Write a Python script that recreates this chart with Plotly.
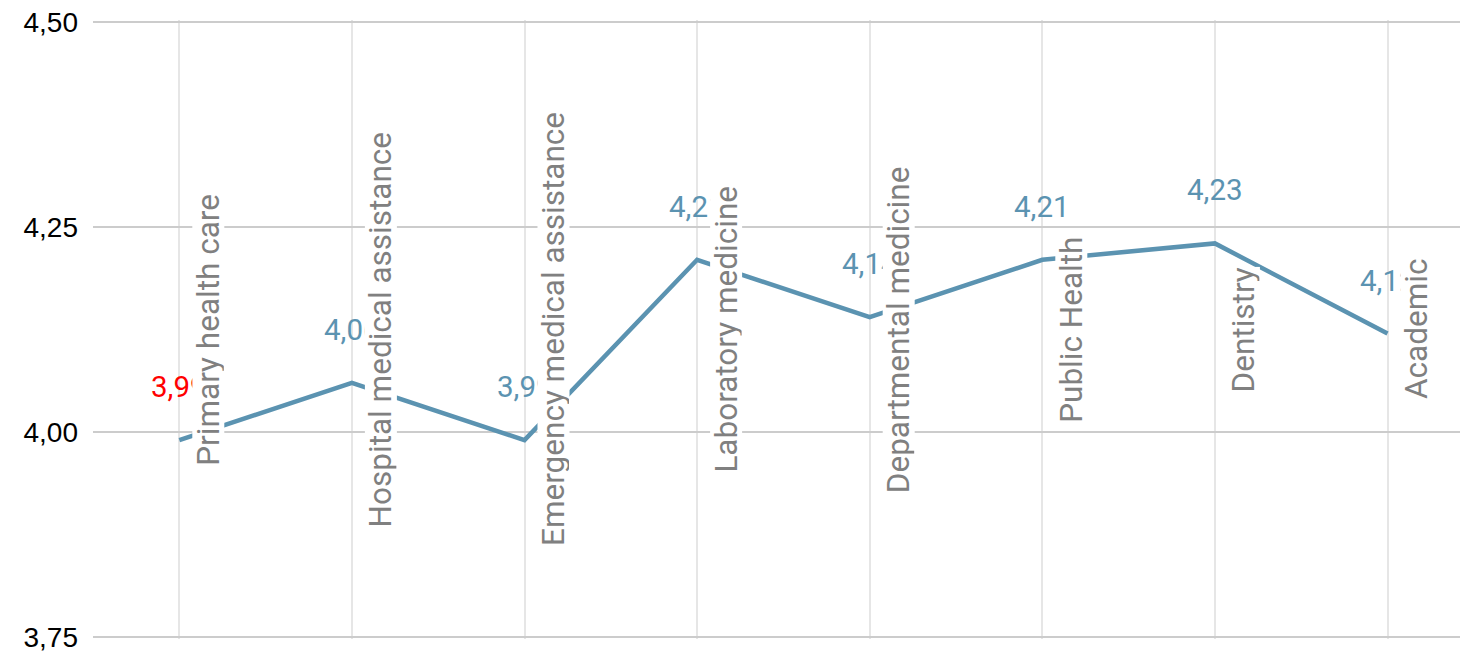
import plotly.graph_objects as go

# Average score by area
categories = [
    "Primary health care",
    "Hospital medical assistance",
    "Emergency medical assistance",
    "Laboratory medicine",
    "Departmental medicine",
    "Public Health",
    "Dentistry",
    "Academic",
]
scores = [3.99, 4.06, 3.99, 4.21, 4.14, 4.21, 4.23, 4.12]
label_colors = ["#ff0000", "#5b93b1", "#5b93b1", "#5b93b1",
                "#5b93b1", "#5b93b1", "#5b93b1", "#5b93b1"]
y_ticks = [3.75, 4.00, 4.25, 4.50]

LINE_COLOR = "#5b93b1"

fig = go.Figure()
fig.add_trace(go.Scatter(
    x=categories,
    y=scores,
    mode="lines",
    line=dict(color=LINE_COLOR, width=4.5),
    hoverinfo="skip",
    showlegend=False,
))

annotations = []
# value labels above each point (drawn first so the category labels cover them)
for cat, val, col in zip(categories, scores, label_colors):
    annotations.append(dict(
        x=cat, y=val, xref="x", yref="y",
        text=f"{val:.2f}".replace(".", ","),
        showarrow=False, yshift=53,
        font=dict(family="Roboto", size=29.5, color=col),
    ))
# category names written vertically inside the plot, on a tight white box
for cat in categories:
    annotations.append(dict(
        x=cat, y=0.5, xref="x", yref="paper",
        text=cat, textangle=-90,
        showarrow=False, xshift=29,
        height=31,
        bgcolor="white", borderpad=0,
        font=dict(family="Roboto", size=31.5, color="#808080"),
    ))

fig.update_layout(
    width=1460, height=653,
    margin=dict(l=93, r=0, t=20, b=14),
    paper_bgcolor="white",
    plot_bgcolor="white",
    separators=", ",
    annotations=annotations,
    xaxis=dict(
        type="category",
        range=[-0.5, 7.42],
        showticklabels=False,
        showgrid=True, gridcolor="#e6e6e6", gridwidth=2,
        zeroline=False, showline=False, ticks="",
    ),
    yaxis=dict(
        # padded slightly so the 3,75 and 4,50 grid lines are drawn
        range=[3.7475, 4.5025],
        tickvals=y_ticks,
        tickformat=".2f",
        showgrid=True, gridcolor="#cccccc", gridwidth=2,
        zeroline=False, showline=False, ticks="",
        ticklabelstandoff=14,
        tickfont=dict(family="Liberation Sans", size=28, color="#000000"),
    ),
)

fig.write_html("out.html")
